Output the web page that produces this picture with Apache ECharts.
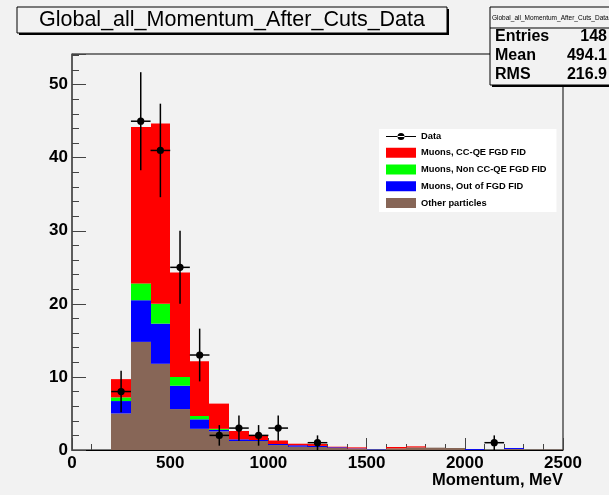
<!DOCTYPE html>
<html>
<head>
<meta charset="utf-8">
<script src="https://cdn.jsdelivr.net/npm/echarts@6/dist/echarts.min.js"></script>
<style>
html,body{margin:0;padding:0;background:#f2f2f2;}
#chart{width:609px;height:495px;}
</style>
</head>
<body>
<div id="chart"></div>
<script>
// histogram bins (MeV), 100 MeV wide
var binLow = [0,100,200,300,400,500,600,700,800,900,1000,1100,1200,1300,1400,1500,1600,1700,1800,1900,2000,2100,2200,2300,2400];
var binWidth = 100;

// stacked MC contributions, bottom to top
var otherParticles = [0,0,5.0,14.8,11.8,5.6,2.9,2.55,1.23,1.23,0.68,0.45,0.41,0.27,0.18,0,0.23,0.36,0.32,0.27,0,0,0.14,0.05,0.05];
var muonsOutFGD    = [0,0,1.7,5.7,5.5,3.2,1.3,0.2,0.23,0.14,0.14,0.2,0.15,0.1,0.05,0.05,0,0,0,0,0.12,0,0.13,0,0];
var muonsNonCCQE   = [0,0,0.5,2.3,2.7,1.2,0.45,0.15,0,0,0,0,0,0,0,0,0,0,0,0,0,0,0,0,0];
var muonsCCQE      = [0,0,2.5,21.4,24.7,14.3,7.5,3.45,1.14,0.68,0.48,0.21,0.26,0.08,0.13,0,0.18,0.14,0,0,0,0,0,0,0];

// data points
var dataX     = [250,350,450,550,650,750,850,950,1050,1250,2150];
var dataCount = [8,45,41,25,13,2,3,2,3,1,1];
var dataError = [2.83,6.71,6.4,5,3.61,1.41,1.73,1.41,1.73,1,1];

// stats box
var statNames  = ['Entries','Mean','RMS'];
var statValues = ['148','494.1','216.9'];

var histName = 'Global_all_Momentum_After_Cuts_Data';
var FONT = 'Liberation Sans, Arial, Helvetica, sans-serif';

function stackSeries(name, color, values, below) {
  var items = [];
  for (var i = 0; i < binLow.length; i++) {
    var base = 0;
    for (var j = 0; j < below.length; j++) base += below[j][i];
    items.push([binLow[i], binLow[i] + binWidth, base, base + values[i]]);
  }
  return {
    type: 'custom',
    name: name,
    z: 2,
    itemStyle: {color: color},
    encode: {x: [0, 1], y: [2, 3]},
    data: items,
    renderItem: function (params, api) {
      if (api.value(3) - api.value(2) <= 0) return;
      var p0 = api.coord([api.value(0), api.value(2)]);
      var p1 = api.coord([api.value(1), api.value(3)]);
      var x0 = Math.round(p0[0]), x1 = Math.round(p1[0]);
      return {
        type: 'rect',
        shape: {x: x0, y: p1[1], width: x1 - x0, height: p0[1] - p1[1]},
        style: {fill: color}
      };
    }
  };
}

var pts = [];
for (var i = 0; i < dataX.length; i++) pts.push([dataX[i], dataCount[i], dataError[i]]);

var series = [
  stackSeries('Other particles', '#876657', otherParticles, []),
  stackSeries('Muons, Out of FGD FID', '#0000ff', muonsOutFGD, [otherParticles]),
  stackSeries('Muons, Non CC-QE FGD FID', '#00ff00', muonsNonCCQE, [otherParticles, muonsOutFGD]),
  stackSeries('Muons, CC-QE FGD FID', '#ff0000', muonsCCQE, [otherParticles, muonsOutFGD, muonsNonCCQE]),
  {
    type: 'custom',
    name: 'Data',
    z: 5,
    itemStyle: {color: '#000'},
    encode: {x: 0, y: 1},
    data: pts,
    renderItem: function (params, api) {
      var x = api.value(0), y = api.value(1), e = api.value(2);
      var c = api.coord([x, y]);
      var t = api.coord([x, y + e]), b = api.coord([x, y - e]);
      var l = api.coord([x - binWidth / 2, y]), r = api.coord([x + binWidth / 2, y]);
      return {type: 'group', children: [
        {type: 'line', shape: {x1: c[0], y1: t[1], x2: c[0], y2: b[1]}, style: {stroke: '#000', lineWidth: 1.5}},
        {type: 'line', shape: {x1: l[0], y1: c[1], x2: r[0], y2: c[1]}, style: {stroke: '#000', lineWidth: 1.5}},
        {type: 'circle', shape: {cx: c[0], cy: c[1], r: 3.6}, style: {fill: '#000'}}
      ]};
    }
  }
];

var graphics = [
  // title box
  {type: 'rect', shape: {x: 19, y: 9, width: 430, height: 26}, style: {fill: '#000'}, z: 10},
  {type: 'rect', shape: {x: 17, y: 7, width: 430, height: 26}, style: {fill: '#f2f2f2', stroke: '#000', lineWidth: 1}, z: 10},
  {type: 'text', x: 232, y: 20, z: 11, style: {text: histName, font: '21.5px ' + FONT, fill: '#000',
    align: 'center', verticalAlign: 'middle', textAlign: 'center', textVerticalAlign: 'middle'}},
  // stats box
  {type: 'rect', shape: {x: 492, y: 9, width: 130, height: 78}, style: {fill: '#000'}, z: 10},
  {type: 'rect', shape: {x: 490, y: 7, width: 130, height: 78}, style: {fill: '#f2f2f2', stroke: '#000', lineWidth: 1}, z: 10},
  {type: 'line', shape: {x1: 490, y1: 28, x2: 609, y2: 28}, style: {stroke: '#000', lineWidth: 1}, z: 11},
  {type: 'text', x: 492, y: 18, z: 11, style: {text: histName, font: '6.5px ' + FONT, fill: '#000',
    align: 'left', verticalAlign: 'middle', textAlign: 'left', textVerticalAlign: 'middle'}}
];
var statY = [37, 56, 75];
for (var k = 0; k < statNames.length; k++) {
  graphics.push({type: 'text', x: 495, y: statY[k], z: 11, style: {text: statNames[k], font: 'bold 16px ' + FONT, fill: '#000',
    align: 'left', verticalAlign: 'middle', textAlign: 'left', textVerticalAlign: 'middle'}});
  graphics.push({type: 'text', x: 607, y: statY[k], z: 11, style: {text: statValues[k], font: 'bold 16px ' + FONT, fill: '#000',
    align: 'right', verticalAlign: 'middle', textAlign: 'right', textVerticalAlign: 'middle'}});
}

var option = {
  animation: false,
  backgroundColor: '#f2f2f2',
  textStyle: {fontFamily: FONT},
  grid: {left: 72, right: 46, top: 54, bottom: 45, show: true, borderColor: '#000', borderWidth: 1, backgroundColor: '#f2f2f2'},
  legend: {
    orient: 'vertical',
    left: 379, top: 129,
    padding: [3, 10, 4, 7],
    itemWidth: 30, itemHeight: 10, itemGap: 6.75,
    backgroundColor: '#fff',
    selectedMode: false,
    textStyle: {fontSize: 9.3, fontWeight: 'bold', color: '#000', fontFamily: FONT},
    data: [
      {name: 'Data', icon: 'path://M0,4.5L30,4.5L30,5.5L0,5.5Z M11.5,5A3.5,3.5,0,1,0,18.5,5A3.5,3.5,0,1,0,11.5,5Z'},
      {name: 'Muons, CC-QE FGD FID', icon: 'rect'},
      {name: 'Muons, Non CC-QE FGD FID', icon: 'rect'},
      {name: 'Muons, Out of FGD FID', icon: 'rect'},
      {name: 'Other particles', icon: 'rect'}
    ]
  },
  xAxis: {
    type: 'value', min: 0, max: 2500, interval: 500,
    name: 'Momentum, MeV', nameLocation: 'end', nameGap: 0,
    nameTextStyle: {fontSize: 16.5, fontWeight: 'bold', color: '#000', align: 'right', verticalAlign: 'top', padding: [22, 0, 0, 0]},
    axisLine: {lineStyle: {color: '#000', width: 1}},
    axisTick: {inside: true, length: 12, lineStyle: {color: '#444'}},
    minorTick: {show: true, splitNumber: 5, length: 6, lineStyle: {color: '#444'}},
    splitLine: {show: false},
    axisLabel: {fontSize: 17, fontWeight: 'bold', color: '#000', margin: 5,
      formatter: function (v) { return String(v); }}
  },
  yAxis: {
    type: 'value', min: 0, max: 54.2, interval: 10,
    axisLine: {show: true, lineStyle: {color: '#555', width: 1.5}},
    axisTick: {show: true, inside: true, length: 14, lineStyle: {color: '#444'}},
    minorTick: {show: true, splitNumber: 5, length: 7, lineStyle: {color: '#444'}},
    splitLine: {show: false},
    axisLabel: {fontSize: 17, fontWeight: 'bold', color: '#000', margin: 4, showMaxLabel: false,
      formatter: function (v) { return String(v); }}
  },
  graphic: graphics,
  series: series
};

var chart = echarts.init(document.getElementById('chart'));
chart.setOption(option);
</script>
</body>
</html>
